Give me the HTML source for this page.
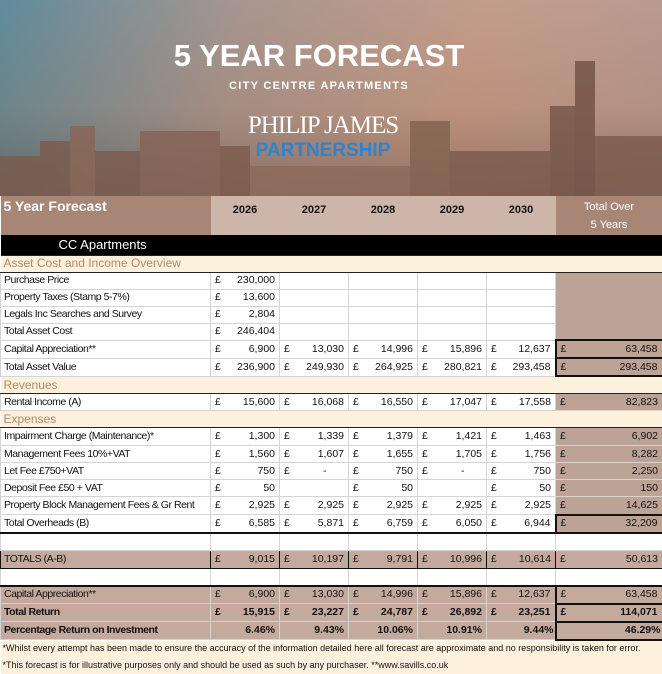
<!DOCTYPE html>
<html><head><meta charset="utf-8"><style>
body{margin:0;width:662px;height:672px;overflow:hidden;font-family:"Liberation Sans",sans-serif;background:#fff}
#ban{position:absolute;left:0;top:0;width:662px;height:196px;background:linear-gradient(180deg,rgba(0,0,0,0) 0%,rgba(150,90,50,.15) 55%,rgba(90,55,40,.4) 100%),linear-gradient(100deg,#5f8c9c 0%,#a79690 35%,#c49c8a 70%,#b69a92 100%);overflow:hidden}
#ban .b{position:absolute;bottom:0;background:#7a5a4c;opacity:.8}
.t1{position:absolute;left:0;width:662px;text-align:center;color:#fff;font-weight:bold}
table{position:absolute;left:0;top:196px;width:662px;border-collapse:collapse;table-layout:fixed;font-size:10.5px;color:#111}
td{height:16px;padding:0 4px;border:1px solid #d4d4d4;white-space:nowrap;overflow:hidden;line-height:13px}
td:first-child{font-size:10.5px;letter-spacing:-0.45px;padding-left:3px}
td.m i{float:left;font-style:normal}
td.m{text-align:right}
.sec td{background:#fdf1dd;color:#b08a6c;font-size:12px!important;letter-spacing:0!important;border-left:none;border-right:none;border-top:1px solid #222;border-bottom:1px solid #222}
.tc{background:#bca396}
.br td{background:#c3aa9d}
.bk{border-bottom:2px solid #111!important}
</style></head><body>
<div id="ban">
<div class="b" style="left:0;width:40px;height:40px"></div>
<div class="b" style="left:40px;width:30px;height:55px"></div>
<div class="b" style="left:70px;width:25px;height:70px;background:#8a6454"></div>
<div class="b" style="left:95px;width:45px;height:45px"></div>
<div class="b" style="left:140px;width:80px;height:65px;background:#856255"></div>
<div class="b" style="left:220px;width:30px;height:50px"></div>
<div class="b" style="left:250px;width:160px;height:30px;background:#8b6a5a"></div>
<div class="b" style="left:410px;width:40px;height:75px;background:#80604f"></div>
<div class="b" style="left:450px;width:100px;height:45px"></div>
<div class="b" style="left:550px;width:25px;height:90px;background:#735446"></div>
<div class="b" style="left:575px;width:20px;height:135px;background:#6f5044"></div>
<div class="b" style="left:595px;width:67px;height:60px"></div>
<div class="t1" style="top:38px;font-size:31px;left:-12px">5 YEAR FORECAST</div>
<div class="t1" style="top:80px;font-size:11px;letter-spacing:1.3px;left:-12px">CITY CENTRE APARTMENTS</div>
<div class="t1" style="top:112px;font-size:25px;font-weight:normal;font-family:'Liberation Serif',serif;left:-8px;letter-spacing:-1px">PHILIP JAMES</div>
<div class="t1" style="top:140px;font-size:19px;color:#2e83cc;left:-8px">PARTNERSHIP</div>
</div>
<table>
<colgroup><col style="width:210px"><col style="width:69px"><col style="width:69px"><col style="width:69px"><col style="width:69px"><col style="width:69px"><col style="width:107px"></colgroup>
<tr style="height:39px"><td style="background:#a88676;color:#fff;font-weight:bold;font-size:14px;letter-spacing:0;vertical-align:top;padding-top:4px;border:none">5 Year Forecast</td>
<td style="background:#cdb5a9;font-weight:bold;font-size:11px;text-align:center;vertical-align:top;padding-top:8px;border:none">2026</td>
<td style="background:#cdb5a9;font-weight:bold;font-size:11px;text-align:center;vertical-align:top;padding-top:8px;border:none">2027</td>
<td style="background:#cdb5a9;font-weight:bold;font-size:11px;text-align:center;vertical-align:top;padding-top:8px;border:none">2028</td>
<td style="background:#cdb5a9;font-weight:bold;font-size:11px;text-align:center;vertical-align:top;padding-top:8px;border:none">2029</td>
<td style="background:#cdb5a9;font-weight:bold;font-size:11px;text-align:center;vertical-align:top;padding-top:8px;border:none">2030</td>
<td style="background:#a88676;color:#fff;font-size:11px;text-align:center;line-height:18px;border:none">Total Over<br>5 Years</td></tr>
<tr style="height:20px"><td colspan="7" style="background:#000;color:#fff;font-size:13px;letter-spacing:0;padding-left:58px;border:none">CC Apartments</td></tr>
<tr class="sec" style="height:17px"><td colspan="7">Asset Cost and Income Overview</td></tr>
<tr style="height:17px"><td>Purchase Price</td><td class="m"><i>£</i>230,000</td><td></td><td></td><td></td><td></td><td rowspan="4" class="tc"></td></tr>
<tr style="height:17px"><td>Property Taxes (Stamp 5-7%)</td><td class="m"><i>£</i>13,600</td><td></td><td></td><td></td><td></td></tr>
<tr style="height:17px"><td>Legals Inc Searches and Survey</td><td class="m"><i>£</i>2,804</td><td></td><td></td><td></td><td></td></tr>
<tr style="height:17px"><td>Total Asset Cost</td><td class="m"><i>£</i>246,404</td><td></td><td></td><td></td><td></td></tr>
<tr style="height:18px"><td>Capital Appreciation**</td><td class="m"><i>£</i>6,900</td><td class="m"><i>£</i>13,030</td><td class="m"><i>£</i>14,996</td><td class="m"><i>£</i>15,896</td><td class="m"><i>£</i>12,637</td><td class="m tc" style="border:2px solid #111"><i>£</i>63,458</td></tr>
<tr style="height:18px"><td>Total Asset Value</td><td class="m"><i>£</i>236,900</td><td class="m"><i>£</i>249,930</td><td class="m"><i>£</i>264,925</td><td class="m"><i>£</i>280,821</td><td class="m"><i>£</i>293,458</td><td class="m tc" style="border:2px solid #111"><i>£</i>293,458</td></tr>
<tr class="sec" style="height:17px"><td colspan="7">Revenues</td></tr>
<tr style="height:17px"><td>Rental Income (A)</td><td class="m"><i>£</i>15,600</td><td class="m"><i>£</i>16,068</td><td class="m"><i>£</i>16,550</td><td class="m"><i>£</i>17,047</td><td class="m"><i>£</i>17,558</td><td class="m tc"><i>£</i>82,823</td></tr>
<tr class="sec" style="height:17px"><td colspan="7">Expenses</td></tr>
<tr style="height:18px"><td>Impairment Charge (Maintenance)*</td><td class="m"><i>£</i>1,300</td><td class="m"><i>£</i>1,339</td><td class="m"><i>£</i>1,379</td><td class="m"><i>£</i>1,421</td><td class="m"><i>£</i>1,463</td><td class="m tc"><i>£</i>6,902</td></tr>
<tr style="height:17px"><td>Management Fees 10%+VAT</td><td class="m"><i>£</i>1,560</td><td class="m"><i>£</i>1,607</td><td class="m"><i>£</i>1,655</td><td class="m"><i>£</i>1,705</td><td class="m"><i>£</i>1,756</td><td class="m tc"><i>£</i>8,282</td></tr>
<tr style="height:17px"><td>Let Fee £750+VAT</td><td class="m"><i>£</i>750</td><td class="m"><i>£</i>-&nbsp;&nbsp;&nbsp;&nbsp;&nbsp;&nbsp;</td><td class="m"><i>£</i>750</td><td class="m"><i>£</i>-&nbsp;&nbsp;&nbsp;&nbsp;&nbsp;&nbsp;</td><td class="m"><i>£</i>750</td><td class="m tc"><i>£</i>2,250</td></tr>
<tr style="height:17px"><td>Deposit Fee £50 + VAT</td><td class="m"><i>£</i>50</td><td></td><td class="m"><i>£</i>50</td><td></td><td class="m"><i>£</i>50</td><td class="m tc"><i>£</i>150</td></tr>
<tr style="height:18px"><td>Property Block Management Fees &amp; Gr Rent</td><td class="m"><i>£</i>2,925</td><td class="m"><i>£</i>2,925</td><td class="m"><i>£</i>2,925</td><td class="m"><i>£</i>2,925</td><td class="m"><i>£</i>2,925</td><td class="m tc"><i>£</i>14,625</td></tr>
<tr style="height:17px"><td class="bk">Total Overheads (B)</td><td class="m bk"><i>£</i>6,585</td><td class="m bk"><i>£</i>5,871</td><td class="m bk"><i>£</i>6,759</td><td class="m bk"><i>£</i>6,050</td><td class="m bk"><i>£</i>6,944</td><td class="m tc" style="border:2px solid #111"><i>£</i>32,209</td></tr>
<tr style="height:15px"><td></td><td></td><td></td><td></td><td></td><td></td><td></td></tr>
<tr class="br" style="height:18px"><td style="border:1px solid #111">TOTALS (A-B)</td><td class="m" style="border:1px solid #111"><i>£</i>9,015</td><td class="m" style="border:1px solid #111"><i>£</i>10,197</td><td class="m" style="border:1px solid #111"><i>£</i>9,791</td><td class="m" style="border:1px solid #111"><i>£</i>10,996</td><td class="m" style="border:1px solid #111"><i>£</i>10,614</td><td class="m" style="border:1px solid #111"><i>£</i>50,613</td></tr>
<tr style="height:15px"><td></td><td></td><td></td><td></td><td></td><td></td><td></td></tr>
<tr class="br" style="height:18px"><td style="border-top:2px solid #111">Capital Appreciation**</td><td class="m" style="border-top:2px solid #111"><i>£</i>6,900</td><td class="m" style="border-top:2px solid #111"><i>£</i>13,030</td><td class="m" style="border-top:2px solid #111"><i>£</i>14,996</td><td class="m" style="border-top:2px solid #111"><i>£</i>15,896</td><td class="m" style="border-top:2px solid #111"><i>£</i>12,637</td><td class="m" style="border:2px solid #111"><i>£</i>63,458</td></tr>
<tr class="br" style="height:18px;font-weight:bold"><td>Total Return</td><td class="m"><i>£</i>15,915</td><td class="m"><i>£</i>23,227</td><td class="m"><i>£</i>24,787</td><td class="m"><i>£</i>26,892</td><td class="m"><i>£</i>23,251</td><td class="m" style="border:2px solid #111"><i>£</i>114,071</td></tr>
<tr class="br" style="height:17px;font-weight:bold"><td>Percentage Return on Investment</td><td class="m">6.46%</td><td class="m">9.43%</td><td class="m">10.06%</td><td class="m">10.91%</td><td class="m" style="padding-right:1px">9.44%</td><td class="m" style="border:2px solid #111;padding-right:1px">46.29%</td></tr>
<tr style="height:16px"><td colspan="7" style="background:#fdf1dd;font-size:9px;letter-spacing:0;padding-left:2px;border:none">*Whilst every attempt has been made to ensure the accuracy of the information detailed here all forecast are approximate and no responsibility is taken for error.</td></tr>
<tr style="height:17px"><td colspan="7" style="background:#fdf1dd;font-size:9px;letter-spacing:0;padding-left:2px;border:none">*This forecast is for illustrative purposes only and should be used as such by any purchaser. **www.savills.co.uk</td></tr>
</table>
</body></html>
